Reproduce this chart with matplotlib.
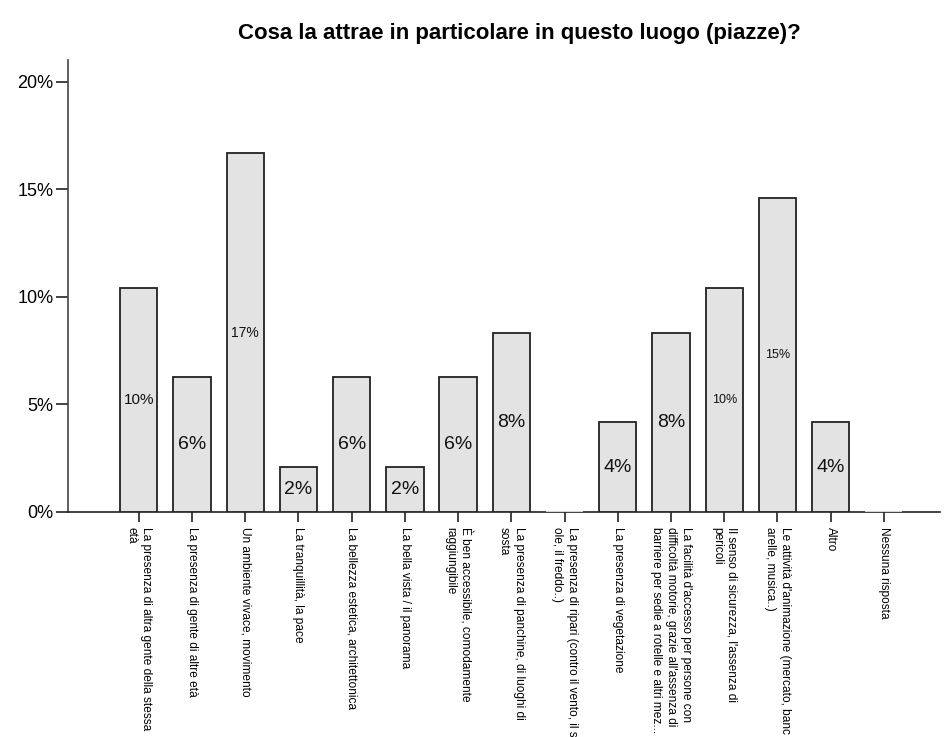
import numpy as np
import matplotlib
matplotlib.use('Agg')
from matplotlib import pyplot as plt

plt.rcParams['font.family'] = ['Liberation Sans', 'DejaVu Sans']

# data
categories = [
    "La presenza di altra gente della stessa\netà",
    "La presenza di gente di altre età",
    "Un ambiente vivace, movimento",
    "La tranquillità, la pace",
    "La bellezza estetica, architettonica",
    "La bella vista / il panorama",
    "È ben accessibile, comodamente\nraggiungibile",
    "La presenza di panchine, di luoghi di\nsosta",
    "La presenza di ripari (contro il vento, il s\nole, il freddo..)",
    "La presenza di vegetazione",
    "La facilità d'accesso per persone con\ndifficoltà motorie, grazie all'assenza di\nbarriere per sedie a rotelle e altri mez...",
    "Il senso di sicurezza, l'assenza di\npericoli",
    "Le attività d'animazione (mercato, banc\narelle, musica..)",
    "Altro",
    "Nessuna risposta",
]
percent = [10.42, 6.25, 16.67, 2.08, 6.25, 2.08, 6.25, 8.33, 0.0, 4.17, 8.33, 10.42, 14.58, 4.17, 0.0]
bar_labels = ["10%", "6%", "17%", "2%", "6%", "2%", "6%", "8%", "", "4%", "8%", "10%", "15%", "4%", ""]
label_sizes = [11, 14, 10, 14, 14, 14, 14, 14, 14, 14, 14, 9, 9, 14, 14]

fig = plt.figure(figsize=(9.45, 7.37), dpi=100)
ax = fig.add_axes([0.072, 0.3053, 0.923, 0.6133])

x = np.arange(len(categories))
fill = '#e3e3e3'
edges = ['#222222' if v > 0 else fill for v in percent]
ax.bar(x, percent, width=0.7, color=fill, edgecolor=edges, linewidth=1.3, zorder=3)

for i, v in enumerate(percent):
    if bar_labels[i]:
        ax.text(x[i], v / 2, bar_labels[i], ha='center', va='center',
                fontsize=label_sizes[i], color='#111111', zorder=4)

ax.set_xlim(-1.33, 15.06)
ax.set_ylim(0, 21.0)
ax.set_yticks([0, 5, 10, 15, 20])
ax.set_yticklabels(['0%', '5%', '10%', '15%', '20%'], fontsize=13)
ax.set_xticks(x)
ax.set_xticklabels(categories, rotation=-90, fontsize=8.6, ha='center', va='top',
                   linespacing=1.3)
for lab in ax.get_xticklabels():
    lab.set_multialignment('left')
ax.tick_params(axis='y', length=8.5, width=1.2, pad=2, color='#222222')
ax.tick_params(axis='x', length=7.5, width=1.2, pad=3, color='#222222')

for s in ['top', 'right']:
    ax.spines[s].set_visible(False)
ax.spines['left'].set_color('#444444')
ax.spines['bottom'].set_color('#222222')
ax.spines['left'].set_linewidth(1.2)
ax.spines['bottom'].set_linewidth(1.2)

fig.text(0.55, 0.955, 'Cosa la attrae in particolare in questo luogo (piazze)?',
         ha='center', va='center', fontsize=16, fontweight='bold')

plt.savefig('out.png', dpi=100)
